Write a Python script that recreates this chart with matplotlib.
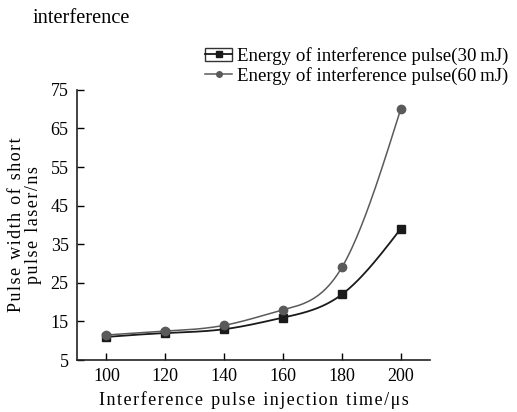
import numpy as np
import matplotlib
matplotlib.use('Agg')
from matplotlib import pyplot as plt
from matplotlib.patches import Rectangle
from matplotlib.legend_handler import HandlerTuple

times = [100, 120, 140, 160, 180, 200]
width_30mj = [11.0, 12.0, 13.0, 16.0, 22.0, 39.0]
width_60mj = [11.5, 12.5, 14.0, 18.0, 29.0, 70.0]
yticks = [5, 15, 25, 35, 45, 55, 65, 75]
xticks = [100, 120, 140, 160, 180, 200]


def natural_spline(x, y, n=200):
    # spline natural para dibujar la curva suave entre los puntos
    x = np.asarray(x, float)
    y = np.asarray(y, float)
    k = len(x)
    h = np.diff(x)
    A = np.zeros((k, k))
    b = np.zeros(k)
    A[0, 0] = A[-1, -1] = 1
    for i in range(1, k - 1):
        A[i, i - 1] = h[i - 1]
        A[i, i] = 2 * (h[i - 1] + h[i])
        A[i, i + 1] = h[i]
        b[i] = 6 * ((y[i + 1] - y[i]) / h[i] - (y[i] - y[i - 1]) / h[i - 1])
    M = np.linalg.solve(A, b)
    xs = np.linspace(x[0], x[-1], n)
    idx = np.clip(np.searchsorted(x, xs) - 1, 0, k - 2)
    x0, x1 = x[idx], x[idx + 1]
    hh = x1 - x0
    t0, t1 = x1 - xs, xs - x0
    ys = (M[idx] * t0**3 + M[idx + 1] * t1**3) / (6 * hh) \
        + (y[idx] / hh - M[idx] * hh / 6) * t0 \
        + (y[idx + 1] / hh - M[idx + 1] * hh / 6) * t1
    return xs, ys


def spaced(text):
    # espaciado entre letras como en la figura original
    words = ['\u200a'.join(w) for w in text.split(' ')]
    return ' \u2009'.join(words)


plt.rcParams['font.family'] = ['Liberation Serif', 'DejaVu Serif']
plt.rcParams['font.size'] = 11

fig = plt.figure(figsize=(5.17, 4.12), dpi=100)
ax = fig.add_axes([0.149, 0.126, 0.683, 0.656])

c30 = '#1a1a1a'
c60 = '#5a5a5a'

xs, ys = natural_spline(times, width_30mj)
ax.plot(xs, ys, color=c30, lw=1.3)
xs, ys = natural_spline(times, width_60mj)
ax.plot(xs, ys, color=c60, lw=1.1)
ax.plot(times, width_30mj, 's', color=c30, ms=6)
ax.plot(times, width_60mj, 'o', color=c60, ms=6)

# entradas de la leyenda
box = Rectangle((0, 0), 1, 1, facecolor='white', edgecolor='#333333', lw=1.0)
h30, = ax.plot([], [], '-s', color=c30, lw=1.3, ms=5)
h60, = ax.plot([], [], '-o', color=c60, lw=1.1, ms=4)
fig.legend([(box, h30), h60],
           ['Energy of interference pulse(30\u2009mJ)',
            'Energy of interference pulse(60\u2009mJ)'],
           handler_map={tuple: HandlerTuple(ndivide=1, pad=0)},
           loc='upper left', bbox_to_anchor=(205 / 517, 1 - 47 / 412),
           frameon=False, handlelength=1.45, handletextpad=0.25,
           labelspacing=0.1, fontsize=13.6, borderaxespad=0, borderpad=0)

ax.set_xlim(90, 210)
ax.set_ylim(5, 75)
ax.set_xticks(xticks)
ax.set_yticks(yticks)
ax.tick_params(direction='in', length=5, width=1, labelsize=13, pad=6)
for s in ['top', 'right']:
    ax.spines[s].set_visible(False)
for s in ['left', 'bottom']:
    ax.spines[s].set_linewidth(1.2)
    ax.spines[s].set_color('#222222')

ax.set_xlabel(spaced('Interference pulse injection time/μs'),
              fontsize=13, labelpad=4)
ax.set_ylabel(spaced('Pulse width of short') + '\n' + spaced('pulse laser/ns'),
              fontsize=13, labelpad=6, linespacing=1.0)

fig.text(33 / 517, 0.955, 'interference', fontsize=14.7, va='center')

fig.savefig('out.png', dpi=100)
plt.close(fig)
